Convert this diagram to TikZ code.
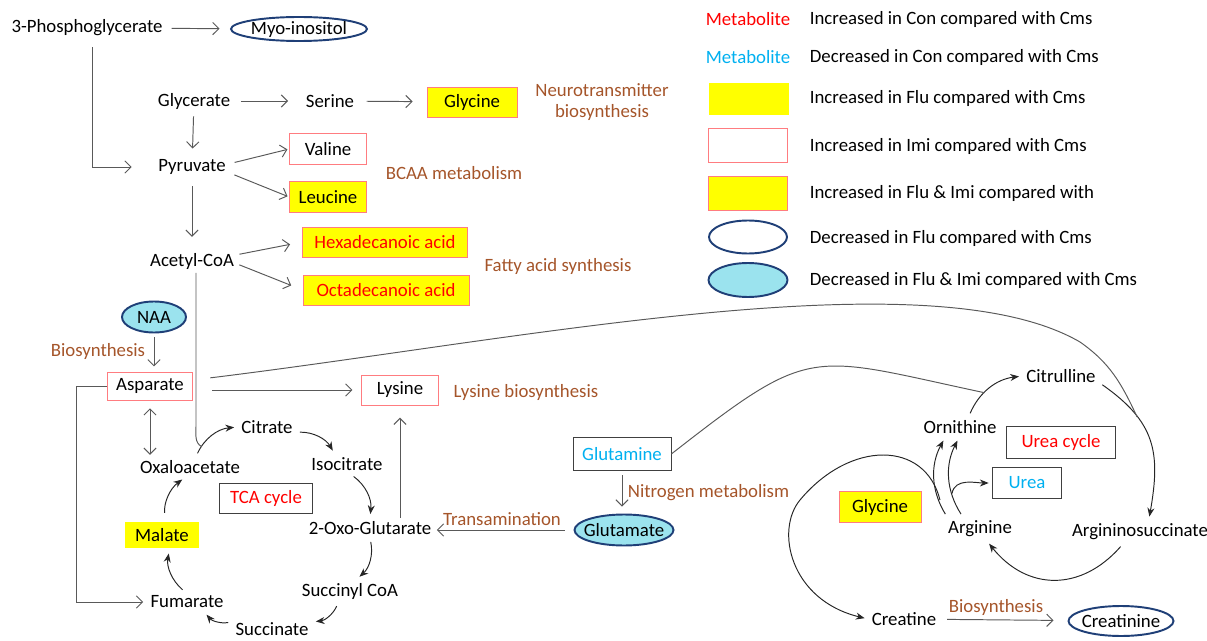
\documentclass[tikz,border=0pt]{standalone}
\usepackage{fontspec}
\setmainfont{Carlito}
\usepackage{xcolor}
\usepackage{tikz}
\usetikzlibrary{shapes.geometric,arrows.meta}

\definecolor{lineclr}{HTML}{595959}
\definecolor{cycclr}{HTML}{262626}
\definecolor{pinkred}{HTML}{FF7C80}
\definecolor{txtred}{HTML}{FF0000}
\definecolor{txtblue}{HTML}{00B0F0}
\definecolor{brn}{HTML}{A5552A}
\definecolor{navy}{HTML}{1F3F77}
\definecolor{cyanfill}{HTML}{9BE3EE}
\definecolor{ylw}{HTML}{FFFF00}

\begin{document}
\begin{tikzpicture}
  [x=0.02cm,y=0.02cm,
   every node/.style={font=\fontsize{10.7}{12}\selectfont,inner sep=2pt},
   imi/.style={draw=pinkred,fill=white,minimum height=0.6cm},
   flu/.style={fill=ylw,minimum height=0.52cm},
   fluimi/.style={draw=pinkred,fill=ylw,minimum height=0.6cm},
   dflu/.style={ellipse,draw=navy,line width=1.1pt,fill=white,inner sep=0pt,minimum height=0.48cm},
   dfluimi/.style={dflu,fill=cyanfill},
   gbox/.style={draw=black!75,minimum height=0.62cm},
   pw/.style={text=brn},
   ln/.style={draw=lineclr,line width=0.55pt},
   ar/.style={ln,-{Straight Barb[length=3.5pt,width=7pt]},shorten <=3pt,shorten >=3pt},
   dar/.style={ln,{Straight Barb[length=3.5pt,width=7pt]}-{Straight Barb[length=3.5pt,width=7pt]}},
   cy/.style={draw=cycclr,line width=0.55pt,-{Stealth[length=5pt,width=4pt]},shorten <=2pt,shorten >=2pt}]
  \useasboundingbox (0,0) rectangle (1207,640);

  % upper pathways
  \node (pg) at (87,612) {3-Phosphoglycerate};
  \node[dflu,minimum width=2.66cm] (myo) at (299,611) {Myo-inositol};
  \node (glc) at (194,539) {Glycerate};
  \node (ser) at (330,539) {Serine};
  \node[fluimi,minimum width=1.8cm] (glyb) at (472,538) {Glycine};
  \node[pw,align=center] (neuro) at (602,538) {Neurotransmitter\\biosynthesis};
  \node (pyr) at (192,473) {Pyruvate};
  \node[imi,minimum width=1.54cm,minimum height=0.62cm] (val) at (328,491) {Valine};
  \node[fluimi,minimum width=1.54cm,minimum height=0.62cm] (leu) at (328,443) {Leucine};
  \node[pw] (bcaa) at (454,467) {BCAA metabolism};
  \node (acoa) at (192,379) {Acetyl-CoA};
  \node[fluimi,text=txtred,minimum width=3.3cm] (hex) at (385,398) {Hexadecanoic acid};
  \node[fluimi,text=txtred,minimum width=3.32cm] (oct) at (386,350) {Octadecanoic acid};
  \node[pw] (fatty) at (558,374) {Fatty acid synthesis};

  % TCA side
  \node[dfluimi,minimum width=1.28cm,minimum height=0.62cm] (naa) at (154,323) {NAA};
  \node[pw] (bio1) at (98,289) {Biosynthesis};
  \node[imi,minimum width=1.7cm,minimum height=0.56cm] (asp) at (150,254) {Asparate};
  \node[imi,minimum width=1.54cm] (lys) at (400,250) {Lysine};
  \node[pw] (lysbio) at (526,248) {Lysine biosynthesis};
  \node (cit) at (267,213) {Citrate};
  \node (isocit) at (347,176) {Isocitrate};
  \node (oaa) at (190,173) {Oxaloacetate};
  \node[gbox,text=txtred,minimum width=1.86cm,minimum height=0.6cm] (tca) at (266,142) {TCA cycle};
  \node[flu,minimum width=1.5cm] (mal) at (162,105) {Malate};
  \node (oxo) at (370,112) {2-Oxo-Glutarate};
  \node (sucoa) at (350,49) {Succinyl CoA};
  \node (succ) at (272,11) {Succinate};
  \node (fum) at (187,38) {Fumarate};
  \node[pw] (transam) at (502,121) {Transamination};

  % urea side
  \node[gbox,text=txtblue,minimum width=1.96cm,minimum height=0.66cm] (gln) at (622,186) {Glutamine};
  \node[pw,anchor=west] (nitro) at (624,147) {Nitrogen metabolism};
  \node[dfluimi,inner xsep=-5pt,minimum width=1.98cm,minimum height=0.62cm] (glu) at (624,110) {Glutamate};
  \node (ctl) at (1061,264) {Citrulline};
  \node (orn) at (960,213) {Ornithine};
  \node[gbox,text=txtred,minimum width=2.18cm,minimum height=0.64cm] (urcyc) at (1061,198) {Urea cycle};
  \node[gbox,text=txtblue,minimum width=1.38cm] (urea) at (1027,157) {Urea};
  \node[fluimi,minimum width=1.64cm,minimum height=0.62cm] (glyc2) at (880,133) {Glycine};
  \node (arg) at (980,111) {Arginine};
  \node (arsuc) at (1140,108) {Argininosuccinate};
  \node (cre) at (904,21) {Creatine};
  \node[pw] (bio2) at (996,33) {Biosynthesis};
  \node[dflu,inner xsep=-3pt,minimum width=2.1cm,minimum height=0.6cm] (crn) at (1121,19) {Creatinine};

  % legend
  \node[text=txtred] (m1) at (748,621) {Metabolite};
  \node[text=txtblue] (m2) at (748,583) {Metabolite};
  \node[flu,minimum width=1.6cm,minimum height=0.66cm] (m3) at (749,541) {};
  \node[imi,minimum width=1.58cm,minimum height=0.68cm] (m4) at (748,495) {};
  \node[fluimi,minimum width=1.58cm,minimum height=0.68cm] (m5) at (748,447) {};
  \node[dflu,minimum width=1.56cm,minimum height=0.66cm] (m6) at (748,403) {};
  \node[dfluimi,minimum width=1.58cm,minimum height=0.68cm] (m7) at (748,360) {};
  \node[anchor=west] (d1) at (806,621) {Increased in Con compared with Cms};
  \node[anchor=west] (d2) at (806,583) {Decreased in Con compared with Cms};
  \node[anchor=west] (d3) at (806,542) {Increased in Flu compared with Cms};
  \node[anchor=west] (d4) at (806,494) {Increased in Imi compared with Cms};
  \node[anchor=west] (d5) at (806,447) {Increased in Flu \& Imi compared with};
  \node[anchor=west] (d6) at (806,402) {Decreased in Flu compared with Cms};
  \node[anchor=west] (d7) at (806,360) {Decreased in Flu \& Imi compared with Cms};

  % straight arrows
  \draw[ar,shorten >=6pt] (pg) -- (myo);
  \draw[ar,shorten <=4pt,shorten >=13pt] ([xshift=0.11cm]pg.south) |- (pyr);
  \draw[ar,shorten <=4pt,shorten >=8pt] (glc) -- (ser);
  \draw[ar,shorten <=5pt,shorten >=8pt] (ser) -- (glyb);
  \draw[ar,shorten <=2pt,shorten >=4pt] (glc) -- (pyr);
  \draw[ar,shorten >=1pt] (pyr.5) -- (val.west);
  \draw[ar,shorten >=1pt] (pyr.-9) -- (leu.west);
  \draw[ar,shorten <=4.5pt,shorten >=7pt] (pyr) -- (acoa);
  \draw[ar,shorten <=1pt,shorten >=7pt] (acoa.8) -- (hex.west);
  \draw[ar,shorten <=1pt,shorten >=7pt] (acoa.-4) -- (oct.west);
  \draw[ar,shorten <=2pt] (naa) -- (naa |- asp.north);
  \draw[ar,shorten <=11pt,shorten >=5pt] (asp.east |- lys) -- (lys);
  \draw[dar,shorten <=4.5pt,shorten >=1pt] (asp.south) -- (asp.south |- oaa.north);
  \draw[ar,shorten <=0pt,shorten >=2pt] (asp.west) -- ++(-31,0) |- (fum);
  \draw[ar,shorten <=0pt,shorten >=7pt] (lys |- oxo.north) -- (lys);
  \draw[ar,shorten <=2.5pt,shorten >=4pt] (gln.south) -- (gln.south |- glu.north);
  \draw[ar,shorten <=5pt,shorten >=1pt] (glu.west) -- (glu.west -| oxo.east);
  \draw[ar,shorten <=4pt,shorten >=8pt] (cre) -- (crn);

  % TCA cycle
  \draw[cy] (oaa.60) to[bend left] coordinate[pos=.2] (tj) (cit.west);
  \draw[cy] (cit.-10) to[bend left] (isocit.140);
  \draw[cy] (isocit.-70) to[bend left] (oxo.north);
  \draw[cy] (oxo.south) to[bend left] (sucoa.60);
  \draw[cy] (sucoa.-135) to[bend left] (succ.10);
  \draw[cy] (succ.170) to[bend left] (fum.-30);
  \draw[cy,shorten >=3pt] (fum.100) to[bend left] (mal.-60);
  \draw[cy,shorten <=5pt] (mal.75) to[bend left] (oaa.-115);
  \draw[ln] ([xshift=0.08cm]acoa.south) -- ++(0,-153) to[out=-90,in=150] (tj);

  % urea cycle
  \draw[cy] (orn.50) to[bend left] coordinate[pos=.4] (gj) (ctl.west);
  \draw[cy] (ctl.-10) to[out=-35,in=80,looseness=1.2] coordinate[pos=.3] (aj) ([xshift=5pt]arsuc.north);
  \draw[cy] (arsuc.-145) to[bend left=50,looseness=1.2] (arg.-60);
  \draw[cy] (arg.160) to[bend left] (orn.-145);
  \draw[cy] (arg.145) to[bend left] coordinate[pos=.3] (uj) (orn.-95);
  \draw[cy,shorten <=0pt] (uj) to[out=80,in=180] (urea.west);
  \draw[cy,shorten <=10pt] (arg.north west) .. controls (925,200) and (850,200) .. (800,140)
    .. controls (775,110) and (790,40) .. (cre.west);
  \draw[ln] (gln.east) to[out=38,in=168,looseness=1.45] (gj);
  \draw[ln,shorten <=10pt] (asp.8) .. controls (520,300) and (930,385) .. (1080,298)
    to[out=-35,in=115] (aj);
\end{tikzpicture}
\end{document}
